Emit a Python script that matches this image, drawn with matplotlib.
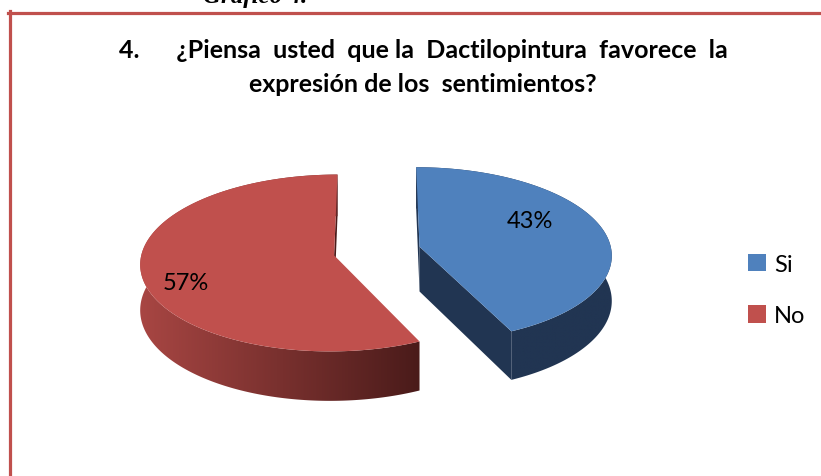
import numpy as np
import matplotlib
matplotlib.use('Agg')
import matplotlib.pyplot as plt
from matplotlib.patches import Polygon, Patch
from matplotlib.colors import LinearSegmentedColormap
from matplotlib.lines import Line2D

# data
labels = ['Si', 'No']
values = [43, 57]
pct_text = ['43%', '57%']
title_lines = ['4.      ¿Piensa  usted  que la  Dactilopintura  favorece  la',
               'expresión de los  sentimientos?']

top_colors = ['#4F81BD', '#C0504D']
side_colors = [('#213552', '#213552'), ('#A84643', '#4A1B1A')]
label_offsets = [(110, -26), (-148, 27)]

plt.rcParams['font.family'] = ['Lato', 'DejaVu Sans']

W, H = 821, 477
fig = plt.figure(figsize=(W / 100, H / 100), dpi=100)
ax = fig.add_axes([0, 0, 1, 1])
ax.set_xlim(0, W)
ax.set_ylim(H, 0)
ax.axis('off')

# 3d pie geometry (pixels)
cx, cy = 377, 252
rx, ry = 192, 87
persp = 0.086
depth = 45
explode = 0.228


def project(X, Y, Z=0.0):
    den = 1 + persp * Y
    return cx + rx * X / den, cy - ry * Y / den + depth * Z / den


def area(pts):
    x = np.array([p[0] for p in pts])
    y = np.array([p[1] for p in pts])
    return 0.5 * np.sum(x * np.roll(y, -1) - np.roll(x, -1) * y)


fracs = np.array(values) / sum(values)
angles = np.concatenate([[0], np.cumsum(fracs) * 360])

for i in range(len(values)):
    t0, t1 = angles[i], angles[i + 1]
    mid = np.radians((t0 + t1) / 2)
    ox, oy = explode * np.sin(mid), explode * np.cos(mid)
    th = np.radians(np.linspace(t0, t1, 300))
    px, py = ox + np.sin(th), oy + np.cos(th)
    tx, ty = project(px, py, 0)
    bx, by = project(px, py, 1)
    apex_t = project(ox, oy, 0)
    apex_b = project(ox, oy, 1)

    # radial cut faces, only the ones facing us
    for edge, sign in ((0, -1), (-1, 1)):
        quad = [apex_t, (tx[edge], ty[edge]), (bx[edge], by[edge]), apex_b]
        if area(quad) * sign > 0:
            ax.add_patch(Polygon(quad, closed=True, fc=side_colors[i][1],
                                 ec='none', zorder=2))

    # outer rim with a left-to-right shade
    rim = np.column_stack([np.r_[tx, bx[::-1]], np.r_[ty, by[::-1]]])
    rim_patch = Polygon(rim, closed=True, fc='none', ec='none', zorder=2)
    ax.add_patch(rim_patch)
    cmap = LinearSegmentedColormap.from_list('s', side_colors[i])
    x0, x1 = rim[:, 0].min(), rim[:, 0].max()
    y0, y1 = rim[:, 1].min(), rim[:, 1].max()
    grad = np.linspace(0, 1, 256).reshape(1, -1)
    im = ax.imshow(grad, cmap=cmap, extent=[x0, x1, y1, y0], aspect='auto',
                   zorder=2, interpolation='bilinear')
    im.set_clip_path(rim_patch)

    # top face
    face = np.column_stack([np.r_[apex_t[0], tx], np.r_[apex_t[1], ty]])
    ax.add_patch(Polygon(face, closed=True, fc=top_colors[i], ec='none',
                         zorder=3))

    ax.text(apex_t[0] + label_offsets[i][0], apex_t[1] + label_offsets[i][1],
            pct_text[i], fontsize=17, ha='center', va='center', zorder=4,
            color='black')

ax.set_xlim(0, W)
ax.set_ylim(H, 0)

# title
ax.text(423, 50, title_lines[0], fontsize=18, fontweight='bold',
        ha='center', va='center')
ax.text(423, 85, title_lines[1], fontsize=18, fontweight='bold',
        ha='center', va='center')

# cut-off caption above the frame
ax.text(255, 3, 'Gráfico 4.', fontsize=18, fontstyle='italic',
        fontweight='bold', family='Liberation Serif', ha='center',
        va='baseline')

# legend
handles = [Patch(fc=c, ec='none') for c in top_colors]
ax.legend(handles, labels, loc='center left', bbox_to_anchor=(736 / W, 1 - 291 / H),
          frameon=False, fontsize=17, handlelength=0.75, handleheight=0.75,
          handletextpad=0.35, labelspacing=1.3, borderpad=0)

# frame
red = '#C0504D'
fig.add_artist(Line2D([9.5 / W, 9.5 / W], [0, 1 - 12 / H], color=red, lw=2.3,
                      transform=fig.transFigure))
fig.add_artist(Line2D([8 / W, 1], [1 - 13.5 / H, 1 - 13.5 / H], color=red,
                      lw=2.3, transform=fig.transFigure))

fig.savefig('out.png', dpi=100)
